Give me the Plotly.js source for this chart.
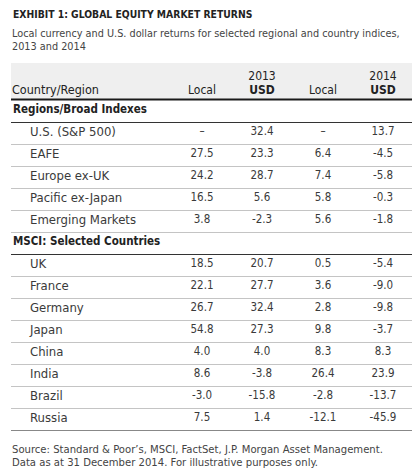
<!DOCTYPE html>
<html>
<head>
<meta charset="utf-8">
<script src="https://cdn.plot.ly/plotly-3.0.1.min.js"></script>
<style>html,body{margin:0;padding:0;background:#fff;}#chart{width:419px;height:474px;}</style>
</head>
<body>
<div id="chart"></div>
<script>
// ---------------- data ----------------
const titleText = "EXHIBIT 1: GLOBAL EQUITY MARKET RETURNS";
const subtitleLines = ["Local currency and U.S. dollar returns for selected regional and country indices,", "2013 and 2014"];
const sourceLines = ["Source: Standard &amp; Poor’s, MSCI, FactSet, J.P. Morgan Asset Management.", "Data as at 31 December 2014. For illustrative purposes only."];

const headerYears = ["", "", "2013", "", "2014"];
const headerLabels = ["Country/Region", "Local", "USD", "Local", "USD"];

const groupRegions = "Regions/Broad Indexes";
const regions = ["U.S. (S&P 500)", "EAFE", "Europe ex-UK", "Pacific ex-Japan", "Emerging Markets"];
const regionLocal2013 = [null, 27.5, 24.2, 16.5, 3.8];
const regionUsd2013   = [32.4, 23.3, 28.7, 5.6, -2.3];
const regionLocal2014 = [null, 6.4, 7.4, 5.8, 5.6];
const regionUsd2014   = [13.7, -4.5, -5.8, -0.3, -1.8];

const groupCountries = "MSCI: Selected Countries";
const countries = ["UK", "France", "Germany", "Japan", "China", "India", "Brazil", "Russia"];
const countryLocal2013 = [18.5, 22.1, 26.7, 54.8, 4.0, 8.6, -3.0, 7.5];
const countryUsd2013   = [20.7, 27.7, 32.4, 27.3, 4.0, -3.8, -15.8, 1.4];
const countryLocal2014 = [0.5, 3.6, 2.8, 9.8, 8.3, 26.4, -2.8, -12.1];
const countryUsd2014   = [-5.4, -9.0, -9.8, -3.7, 8.3, 23.9, -13.7, -45.9];

// ---------------- layout constants ----------------
const W = 419, H = 474;
const TABLE_L = 11, TABLE_R = 412;
const HEAD_TOP = 63, HEAD_BOT = 99.5, ROW_H = 22;
const COL_X = [12, 202, 262, 323, 383];
const GROUP_X = 13, LABEL_X = 30;
const FONT = '"DejaVu Sans Condensed", "Liberation Sans Narrow", Roboto, sans-serif';
const TXT = '#3a3a3a';

const fmt = v => (v === null ? '–' : v.toFixed(1));

// build rows
const rows = [];
rows.push({group: true, label: groupRegions});
regions.forEach((r, i) => rows.push({group: false, label: r,
  vals: [regionLocal2013[i], regionUsd2013[i], regionLocal2014[i], regionUsd2014[i]]}));
rows.push({group: true, label: groupCountries});
countries.forEach((c, i) => rows.push({group: false, label: c,
  vals: [countryLocal2013[i], countryUsd2013[i], countryLocal2014[i], countryUsd2014[i]]}));

const rowY = i => HEAD_BOT + (i + 0.5) * ROW_H;
const rowBottom = i => HEAD_BOT + (i + 1) * ROW_H;

const traces = [];
// group labels
const gIdx = rows.map((r, i) => r.group ? i : -1).filter(i => i >= 0);
traces.push({type: 'scatter', mode: 'text', hoverinfo: 'skip',
  x: gIdx.map(() => GROUP_X), y: gIdx.map(rowY),
  text: gIdx.map(i => '<b>' + rows[i].label + '</b>'),
  textposition: 'middle right', textfont: {family: FONT, size: 11.5, color: '#222'}});
// data labels
const dIdx = rows.map((r, i) => r.group ? -1 : i).filter(i => i >= 0);
traces.push({type: 'scatter', mode: 'text', hoverinfo: 'skip',
  x: dIdx.map(() => LABEL_X), y: dIdx.map(rowY),
  text: dIdx.map(i => rows[i].label.replace('&', '&amp;')),
  textposition: 'middle right', textfont: {family: FONT, size: 13, color: TXT}});
// numeric columns
for (let c = 0; c < 4; c++) {
  traces.push({type: 'scatter', mode: 'text', hoverinfo: 'skip',
    x: dIdx.map(() => COL_X[c + 1]), y: dIdx.map(rowY),
    text: dIdx.map(i => fmt(rows[i].vals[c])),
    textposition: 'middle center', textfont: {family: FONT, size: 11.5, color: TXT}});
}
// header
traces.push({type: 'scatter', mode: 'text', hoverinfo: 'skip',
  x: COL_X.slice(1), y: COL_X.slice(1).map(() => 77),
  text: headerYears.slice(1), textposition: 'middle center',
  textfont: {family: FONT, size: 12, color: '#222'}});
traces.push({type: 'scatter', mode: 'text', hoverinfo: 'skip',
  x: COL_X.slice(1), y: COL_X.slice(1).map(() => 91),
  text: headerLabels.slice(1).map(t => t === 'USD' ? '<b>' + t + '</b>' : t), textposition: 'middle center',
  textfont: {family: FONT, size: 12, color: '#222'}});
traces.push({type: 'scatter', mode: 'text', hoverinfo: 'skip',
  x: [COL_X[0]], y: [91], text: [headerLabels[0]], textposition: 'middle right',
  textfont: {family: FONT, size: 12.5, color: '#222'}});

// shapes
const shapes = [];
shapes.push({type: 'rect', xref: 'x', yref: 'y', x0: TABLE_L, x1: TABLE_R, y0: HEAD_TOP, y1: HEAD_BOT,
  fillcolor: '#efefef', line: {width: 0}, layer: 'below'});
shapes.push({type: 'line', xref: 'x', yref: 'y', x0: TABLE_L, x1: TABLE_R, y0: HEAD_BOT, y1: HEAD_BOT,
  line: {color: '#1a1a1a', width: 2}});
rows.forEach((r, i) => {
  const y = Math.round(rowBottom(i)) + 0.5;
  const last = i === rows.length - 1;
  shapes.push({type: 'line', xref: 'x', yref: 'y', x0: TABLE_L, x1: TABLE_R, y0: y, y1: y,
    line: {color: r.group ? '#333333' : (last ? '#888888' : '#c4c4c4'), width: 1}});
});

const annotations = [];
annotations.push({xref: 'x', yref: 'y', x: 11, y: 14, xanchor: 'left', yanchor: 'middle', showarrow: false,
  text: '<b>' + titleText + '</b>', font: {family: FONT, size: 10.3, color: '#222'}});
subtitleLines.forEach((t, i) => annotations.push({xref: 'x', yref: 'y', x: 10, y: 33 + i * 13,
  xanchor: 'left', yanchor: 'middle', showarrow: false, text: t,
  font: {family: FONT, size: 10.8, color: '#444'}}));
sourceLines.forEach((t, i) => annotations.push({xref: 'x', yref: 'y', x: 10, y: 449 + i * 13,
  xanchor: 'left', yanchor: 'middle', showarrow: false, text: t,
  font: {family: FONT, size: 11.2, color: '#444'}}));

const layout = {
  width: W, height: H, margin: {l: 0, r: 0, t: 0, b: 0, pad: 0},
  paper_bgcolor: '#fff', plot_bgcolor: '#fff', showlegend: false,
  xaxis: {range: [0, W], visible: false, fixedrange: true},
  yaxis: {range: [H, 0], visible: false, fixedrange: true},
  shapes, annotations
};
Plotly.newPlot('chart', traces, layout, {displayModeBar: false, staticPlot: true});
</script>
</body>
</html>
